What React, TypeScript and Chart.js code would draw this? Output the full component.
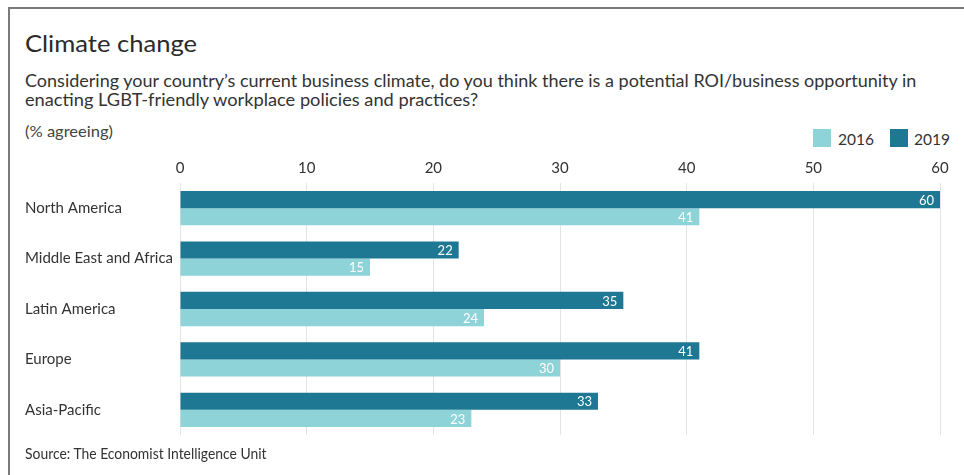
import React, { useEffect, useRef, useState } from "react";
import { Chart, registerables } from "chart.js";

Chart.register(...registerables);

const categories = ["North America", "Middle East and Africa", "Latin America", "Europe", "Asia-Pacific"];
const values2019 = [60, 22, 35, 41, 33];
const values2016 = [41, 15, 24, 30, 23];
const legendOrder = ["2016", "2019"];
const xMin = 0;
const xMax = 60;
const xStep = 10;

const DARK = "#1f7893";
const LIGHT = "#8dd3d8";
const FONT = "Lato, 'Open Sans', sans-serif";
const seriesColors: Record<string, string> = { "2019": DARK, "2016": LIGHT };

function FitText(props: {
  text: string;
  left: number;
  top: number;
  width: number;
  size: number;
  color: string;
}) {
  const { text, left, top, width, size, color } = props;
  const [scale, setScale] = useState(1);
  useEffect(() => {
    const ctx = document.createElement("canvas").getContext("2d");
    if (!ctx) return;
    ctx.font = `400 ${size}px ${FONT}`;
    const w = ctx.measureText(text).width;
    if (w > 0) setScale(width / w);
  }, [text, width, size]);
  return (
    <div
      style={{
        position: "absolute",
        left,
        top,
        fontFamily: FONT,
        fontSize: size,
        color,
        whiteSpace: "nowrap",
        lineHeight: 1,
        transform: `scaleX(${scale})`,
        transformOrigin: "0 0",
      }}
    >
      {text}
    </div>
  );
}

const valueLabels = {
  id: "valueLabels",
  afterDatasetsDraw(chart: any) {
    const ctx = chart.ctx;
    ctx.save();
    ctx.font = `13px ${FONT}`;
    ctx.fillStyle = "#ffffff";
    ctx.textAlign = "right";
    ctx.textBaseline = "middle";
    chart.data.datasets.forEach((ds: any, di: number) => {
      chart.getDatasetMeta(di).data.forEach((el: any, i: number) => {
        ctx.fillText(String(ds.data[i]), el.x - 6, el.y + 1);
      });
    });
    ctx.restore();
  },
};

export default function App() {
  const canvasRef = useRef<HTMLCanvasElement | null>(null);

  useEffect(() => {
    document.body.style.margin = "0";
    const canvas = canvasRef.current;
    if (!canvas) return;
    const chart = new Chart(canvas, {
      type: "bar",
      data: {
        labels: categories,
        datasets: [
          { label: "2019", data: values2019, backgroundColor: DARK, borderWidth: 0 },
          { label: "2016", data: values2016, backgroundColor: LIGHT, borderWidth: 0 },
        ],
      },
      options: {
        indexAxis: "y",
        animation: false,
        responsive: false,
        maintainAspectRatio: false,
        layout: { padding: { top: 9, left: 25, right: 24, bottom: 7 } },
        datasets: {
          bar: { categoryPercentage: 0.68, barPercentage: 1 },
        },
        plugins: {
          legend: { display: false },
          tooltip: { enabled: false },
        },
        scales: {
          x: {
            position: "top",
            min: xMin,
            max: xMax,
            ticks: {
              stepSize: xStep,
              padding: 6,
              color: "#333333",
              font: { family: FONT, size: 15 },
            },
            grid: { color: "#e4e4e4", lineWidth: 1, drawTicks: false },
            border: { display: false },
          },
          y: {
            position: "left",
            afterFit(scale: any) {
              scale.width = 155;
            },
            ticks: {
              crossAlign: "far",
              color: "#333333",
              font: { family: FONT, size: 15 },
            },
            grid: { display: false, drawTicks: false },
            border: { display: false },
          },
        },
      },
      plugins: [valueLabels],
    });
    return () => chart.destroy();
  }, []);

  const legendSquareLeft = [813, 890];
  const legendTextLeft = [838, 914];

  return (
    <div
      style={{
        position: "fixed",
        left: 0,
        top: 0,
        width: 964,
        height: 475,
        background: "#ffffff",
        overflow: "hidden",
      }}
    >
      <div
        style={{
          position: "absolute",
          left: 8,
          top: 7,
          right: 0,
          bottom: 0,
          borderLeft: "2px solid #7a7a7a",
          borderTop: "2px solid #7a7a7a",
        }}
      />
      <FitText text="Climate change" left={25} top={31} width={172} size={24} color="#2a2a2a" />
      <FitText
        text="Considering your country’s current business climate, do you think there is a potential ROI/business opportunity in"
        left={25}
        top={72}
        width={893}
        size={17.5}
        color="#333333"
      />
      <FitText
        text="enacting LGBT-friendly workplace policies and practices?"
        left={25}
        top={91}
        width={454}
        size={17.5}
        color="#333333"
      />
      <FitText text="(% agreeing)" left={25} top={124} width={88} size={15} color="#444444" />
      {legendOrder.map((name, i) => (
        <React.Fragment key={name}>
          <div
            style={{
              position: "absolute",
              left: legendSquareLeft[i],
              top: 129,
              width: 18,
              height: 18,
              background: seriesColors[name],
            }}
          />
          <FitText text={name} left={legendTextLeft[i]} top={131} width={36} size={16} color="#333333" />
        </React.Fragment>
      ))}
      <div style={{ position: "absolute", left: 0, top: 144, width: 964, height: 303 }}>
        <canvas ref={canvasRef} width={964} height={303} />
      </div>
      <FitText
        text="Source: The Economist Intelligence Unit"
        left={25}
        top={446}
        width={242}
        size={15}
        color="#333333"
      />
    </div>
  );
}
